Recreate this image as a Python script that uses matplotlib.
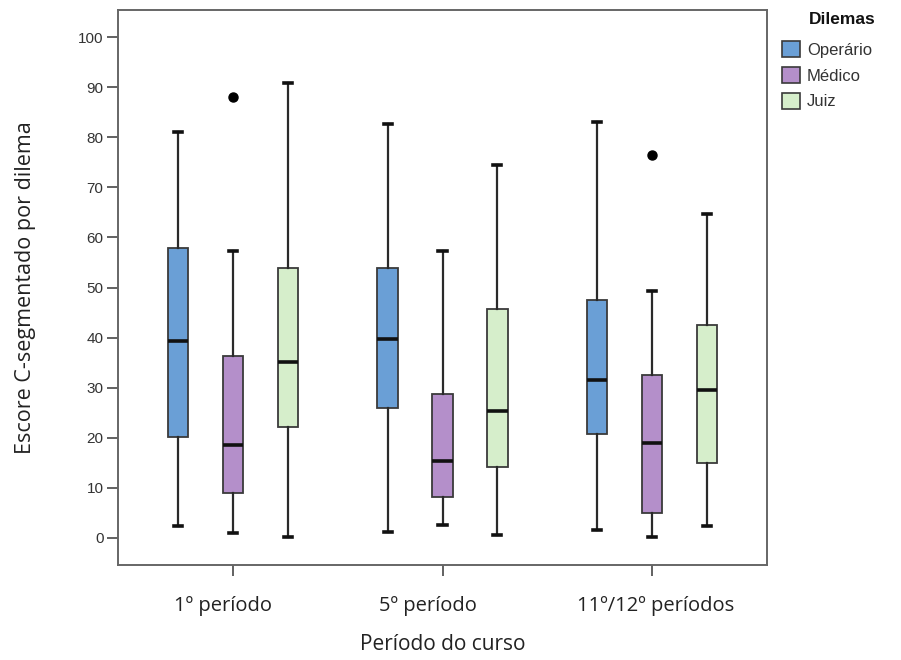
import matplotlib
matplotlib.use("Agg")
import matplotlib.pyplot as plt
import matplotlib.transforms as mtransforms
from matplotlib.patches import Patch

# ---- data ----
periods = ["1º período", "5º período", "11º/12º períodos"]
dilemmas = ["Operário", "Médico", "Juiz"]

# per dilemma: lists over periods
whislo = {"Operário": [2.3, 1.2, 1.6], "Médico": [0.9, 2.6, 0.1], "Juiz": [0.1, 0.5, 2.4]}
q1     = {"Operário": [20.2, 26.0, 20.7], "Médico": [8.9, 8.2, 4.9], "Juiz": [22.2, 14.1, 14.9]}
med    = {"Operário": [39.4, 39.7, 31.6], "Médico": [18.6, 15.4, 19.0], "Juiz": [35.2, 25.3, 29.5]}
q3     = {"Operário": [57.8, 53.9, 47.6], "Médico": [36.4, 28.7, 32.6], "Juiz": [53.8, 45.7, 42.6]}
whishi = {"Operário": [81.1, 82.6, 83.1], "Médico": [57.2, 57.2, 49.4], "Juiz": [90.8, 74.4, 64.6]}
fliers = {"Operário": [[], [], []], "Médico": [[88.1], [], [76.4]], "Juiz": [[], [], []]}

yticks = [0, 10, 20, 30, 40, 50, 60, 70, 80, 90, 100]

colors = {"Operário": "#6a9fd6", "Médico": "#b48fca", "Juiz": "#d6eecb"}
edge = "#3a3a3a"

fig = plt.figure(figsize=(9.01, 6.6), dpi=100)
ax = fig.add_axes([118/901, 1 - 565/660, (767-118)/901, (565-10)/660])

offsets = [-0.262, 0.0, 0.262]
width = 0.097
for d, off in zip(dilemmas, offsets):
    stats = []
    for i in range(len(periods)):
        stats.append(dict(med=med[d][i], q1=q1[d][i], q3=q3[d][i],
                          whislo=whislo[d][i], whishi=whishi[d][i],
                          fliers=fliers[d][i]))
    pos = [i + off for i in range(len(periods))]
    ax.bxp(stats, positions=pos, widths=width, patch_artist=True,
           showfliers=True, capwidths=width*0.4,
           boxprops=dict(facecolor=colors[d], edgecolor=edge, linewidth=1.3),
           medianprops=dict(color="#111111", linewidth=2.6),
           whiskerprops=dict(color="#2a2a2a", linewidth=1.6),
           capprops=dict(color="#111111", linewidth=2.6),
           flierprops=dict(marker="o", markerfacecolor="black",
                           markeredgecolor="black", markersize=6.5))

ax.set_xlim(-0.548, 2.548)
ax.set_ylim(-5.4, 105.4)
ax.set_yticks(yticks)
ax.set_yticklabels([str(t) for t in yticks], fontfamily="Liberation Sans",
                   fontsize=11, color="#333333")
ax.set_xticks(range(len(periods)))
ax.set_xticklabels(periods, fontfamily="Open Sans", fontsize=14.5, color="#222222")
ax.tick_params(axis="y", length=8, width=1.3, color="#555555", pad=2.5)
ax.tick_params(axis="x", length=8, width=1.3, color="#555555", pad=14)
for s in ax.spines.values():
    s.set_color("#666666")
    s.set_linewidth(1.4)

# slight horizontal offsets of the tick labels as in the reference
shifts_px = [-10, -15, 3]
for lab, dx in zip(ax.get_xticklabels(), shifts_px):
    lab.set_transform(lab.get_transform() +
                      mtransforms.ScaledTranslation(dx/100, 0, fig.dpi_scale_trans))

ax.set_ylabel("Escore C-segmentado por dilema", fontfamily="Open Sans",
              fontsize=15.5, color="#222222", labelpad=30)
ax.set_xlabel("Período do curso", fontfamily="Open Sans", fontsize=15,
              color="#222222", labelpad=13)

handles = [Patch(facecolor=colors[d], edgecolor=edge, linewidth=1.2) for d in dilemmas]
leg = fig.legend(handles, dilemmas, loc="upper left",
                 bbox_to_anchor=(782/901, 1 - 41/660), frameon=False,
                 handlelength=1.1, handleheight=1.1, handletextpad=0.4,
                 labelspacing=0.55, borderpad=0, borderaxespad=0,
                 prop=dict(family="Liberation Sans", size=12))
for t in leg.get_texts():
    t.set_color("#333333")
fig.text(809/901, 1 - 19/660, "Dilemas", fontfamily="Liberation Sans",
         fontsize=12.5, fontweight="bold", va="center", ha="left", color="#111111")

fig.savefig("out.png", dpi=100)
